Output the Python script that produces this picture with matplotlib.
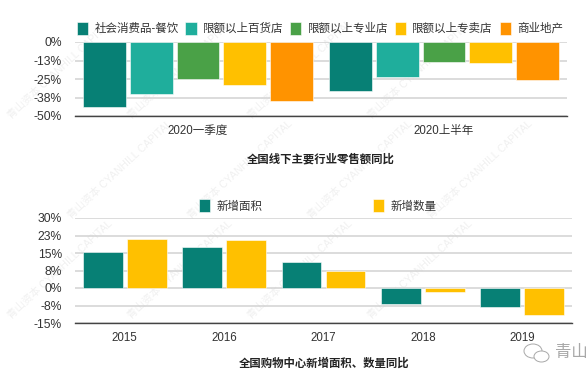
import matplotlib
matplotlib.use("Agg")
import matplotlib.pyplot as plt
import numpy as np
from matplotlib.patches import Ellipse

plt.rcParams['font.family'] = ['Liberation Sans', 'Noto Sans CJK SC', 'DejaVu Sans']

W, H = 588, 373

# --- data ---
top_groups = ['2020一季度', '2020上半年']
top_names = ['社会消费品-餐饮', '限额以上百货店', '限额以上专业店', '限额以上专卖店', '商业地产']
top_values = [
    [-43.9, -32.8],
    [-34.8, -23.5],
    [-24.9, -13.8],
    [-29.0, -14.2],
    [-39.8, -25.5],
]
top_colors = ['#078075', '#1FAE9C', '#4AA147', '#FFC000', '#FF9300']
top_ticks = [0, -12.5, -25, -37.5, -50]
top_ticklabels = ['0%', '-13%', '-25%', '-38%', '-50%']

years = ['2015', '2016', '2017', '2018', '2019']
area_growth = [15.3, 17.7, 11.1, -6.9, -8.3]
count_growth = [20.9, 20.6, 7.4, -1.7, -11.7]
bottom_colors = ['#078075', '#FFC000']
bottom_names = ['新增面积', '新增数量']
bottom_ticks = [30, 22.5, 15, 7.5, 0, -7.5, -15]
bottom_ticklabels = ['30%', '23%', '15%', '8%', '0%', '-8%', '-15%']


def px_axes(fig, x0, x1, y_top, y_bot):
    return fig.add_axes([x0 / W, 1 - y_bot / H, (x1 - x0) / W, (y_bot - y_top) / H])


def style(ax, ticks, labels):
    ax.set_yticks(ticks)
    ax.set_yticklabels(labels, fontsize=8.7, color='#333333')
    ax.tick_params(axis='both', length=0)
    ax.tick_params(axis='y', pad=9.5)
    ax.tick_params(axis='x', pad=6.5, labelsize=8.3, labelcolor='#333333')
    ax.grid(axis='y', color='#D2D2D2', lw=1.1, zorder=0)
    ax.set_axisbelow(True)
    for s in ['top', 'left', 'right']:
        ax.spines[s].set_visible(False)
    ax.spines['bottom'].set_color('#444444')
    ax.spines['bottom'].set_linewidth(1.0)
    ax.patch.set_alpha(0)


fig = plt.figure(figsize=(W / 100, H / 100), dpi=100, facecolor='white')

# watermark, on its own layer under the charts
bg = fig.add_axes([0, 0, 1, 1], facecolor='none', zorder=-1)
bg.set_xlim(0, W)
bg.set_ylim(H, 0)
bg.axis('off')
for row, gy in enumerate(range(70, 330, 100)):
    for gx in range(60 + 60 * (row % 2), 540, 120):
        bg.text(gx, gy, '青山资本 CYANHILL CAPITAL', rotation=43, fontsize=7.5,
                color='#F0F0F0', ha='center', va='center', rotation_mode='anchor')

# top chart
ax1 = px_axes(fig, 75, 567, 42, 116)
x1 = np.arange(len(top_groups))
step, bw = 0.19, 0.174
for i, (name, vals, col) in enumerate(zip(top_names, top_values, top_colors)):
    ax1.bar(x1 + (i - 2) * step, vals, bw, color=col, label=name, zorder=3,
            edgecolor='white', linewidth=0.4)
ax1.set_xlim(-0.5, 1.5)
ax1.set_ylim(-50, 0)
ax1.set_xticks(x1)
ax1.set_xticklabels(top_groups)
style(ax1, top_ticks, top_ticklabels)
ax1.legend(loc='center left', bbox_to_anchor=(0.004, 1.185), ncol=5, frameon=False,
           fontsize=8.3, handlelength=0.97, handleheight=1.35, handletextpad=0.55,
           columnspacing=0.58, borderpad=0, borderaxespad=0, labelcolor='#333333')
fig.text(320.5 / W, 1 - 158.3 / H, '全国线下主要行业零售额同比', fontsize=8.2, fontweight='bold',
         ha='center', va='center', color='#222222')

# bottom chart
ax2 = px_axes(fig, 75, 572, 218, 323)
x2 = np.arange(len(years))
ax2.bar(x2 - 0.221, area_growth, 0.4, color=bottom_colors[0], label=bottom_names[0], zorder=3,
        edgecolor='white', linewidth=0.4)
ax2.bar(x2 + 0.221, count_growth, 0.4, color=bottom_colors[1], label=bottom_names[1], zorder=3,
        edgecolor='white', linewidth=0.4)
ax2.set_xlim(-0.5, 4.5)
ax2.set_ylim(-15, 30)
ax2.set_xticks(x2)
ax2.set_xticklabels(years)
style(ax2, bottom_ticks, bottom_ticklabels)
ax2.legend(loc='center left', bbox_to_anchor=(0.2495, 1.115), ncol=2, frameon=False,
           fontsize=8.3, handlelength=0.97, handleheight=1.35, handletextpad=0.55,
           columnspacing=9.6, borderpad=0, borderaxespad=0, labelcolor='#333333')
fig.text(324 / W, 1 - 363 / H, '全国购物中心新增面积、数量同比', fontsize=8.2, fontweight='bold',
         ha='center', va='center', color='#222222')

# WeChat mark
ov = fig.add_axes([0, 0, 1, 1], facecolor='none')
ov.set_xlim(0, W)
ov.set_ylim(H, 0)
ov.axis('off')
ov.add_patch(Ellipse((533, 351), 18, 14, fill=False, ec='#A8A8A8', lw=0.7))
ov.add_patch(Ellipse((541.5, 356.5), 15, 11, facecolor='white', ec='#A8A8A8', lw=0.7))
ov.text(555, 353, '青山', fontsize=11.8, color='#A8A8A8', ha='left', va='center')

fig.savefig('out.png', dpi=100)
